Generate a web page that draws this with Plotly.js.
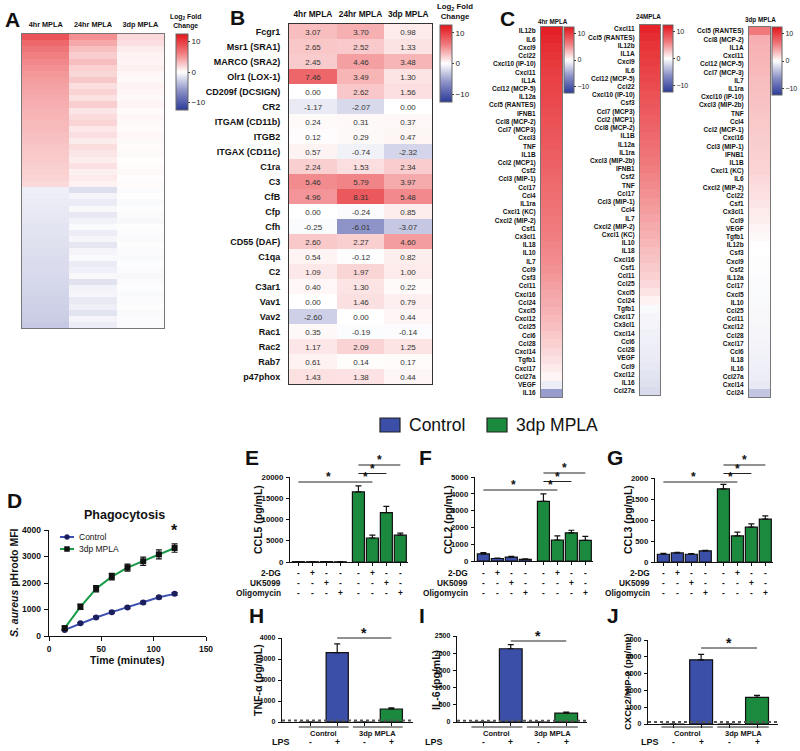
<!DOCTYPE html>
<html>
<head>
<meta charset="utf-8">
<script src="https://cdn.plot.ly/plotly-3.0.1.min.js"></script>
<style>html,body{margin:0;padding:0;background:#fff;}#chart{width:800px;height:751px;}</style>
</head>
<body>
<div id="chart"></div>
<script>
// ---------------- DATA ----------------
// Panel A: log2 fold change, rows ordered by 4hr value
const aCols = ['4hr MPLA','24hr MPLA','3dp MPLA'];
const aFold4hr = [8.6,7.4,6.6,6.0,5.6,5.2,4.9,4.6,4.4,4.2,4.0,3.8,3.6,3.5,3.3,3.2,3.0,2.9,2.7,2.6,2.5,2.3,2.2,2.0,1.8,
  -0.9,-1.0,-1.1,-1.2,-1.3,-1.4,-1.5,-1.5,-1.6,-1.7,-1.8,-1.9,-2.0,-2.0,-2.1,-2.2,-2.3,-2.4,-2.5,-2.6,-2.7,-2.8,-3.0];
const aFold24hr = [5.2,4.1,3.0,2.4,3.1,2.2,1.9,2.6,1.5,2.0,1.4,2.3,1.2,1.7,2.0,1.1,1.5,0.9,1.6,1.2,0.8,1.4,0.7,1.0,0.6,
  -1.8,-0.6,-1.1,-0.4,-1.3,-0.7,-0.3,-1.0,-0.5,-1.4,-0.6,-0.3,-1.1,-0.8,-0.4,-1.6,-0.7,-0.5,-1.2,-0.9,-1.5,-0.6,-1.0];
const aFold3dp = [1.8,1.5,0.9,0.6,0.5,0.7,0.4,0.3,0.6,0.4,0.3,0.5,0.2,0.4,0.3,0.2,0.4,0.3,0.2,0.3,0.1,0.2,0.3,0.1,0.2,
  -0.2,-0.1,-0.3,-0.1,-0.2,-0.4,-0.1,-0.2,-0.3,-0.1,-0.2,-0.3,-0.1,-0.2,-0.4,-0.2,-0.1,-0.3,-0.2,-0.1,-0.3,-0.2,-0.2];

// Panel B
const bCols = ['4hr MPLA','24hr MPLA','3dp MPLA'];
const bGenes = ['Fcgr1','Msr1 (SRA1)','MARCO (SRA2)','Olr1 (LOX-1)','CD209f (DCSIGN)','CR2','ITGAM (CD11b)','ITGB2',
  'ITGAX (CD11c)','C1ra','C3','CfB','Cfp','Cfh','CD55 (DAF)','C1qa','C2','C3ar1','Vav1','Vav2','Rac1','Rac2','Rab7','p47phox'];
const b4hr  = [3.07,2.65,2.45,7.46,0.00,-1.17,0.24,0.12,0.57,2.24,5.46,4.96,0.00,-0.25,2.60,0.54,1.09,0.40,0.00,-2.60,0.35,1.17,0.61,1.43];
const b24hr = [3.70,2.52,4.46,3.49,2.62,-2.07,0.31,0.29,-0.74,1.53,5.79,8.31,-0.24,-6.01,2.27,-0.12,1.97,1.30,1.46,0.00,-0.19,2.09,0.14,1.38];
const b3dp  = [0.98,1.33,3.48,1.30,1.56,0.00,0.37,0.47,-2.32,2.34,3.97,5.48,0.85,-3.07,4.60,0.82,1.00,0.22,0.79,0.44,-0.14,1.25,0.17,0.44];

// Panel C
const c4Genes = ['IL12b','IL6','Cxcl9','Ccl22','Cxcl10 (IP-10)','Cxcl11','IL1A','Ccl12 (MCP-5)','IL12a','Ccl5 (RANTES)','IFNB1',
  'Ccl8 (MCP-2)','Ccl7 (MCP3)','Cxcl3','TNF','IL1B','Ccl2 (MCP1)','Csf2','Ccl3 (MIP-1)','Ccl17','Ccl4','IL1ra','Cxcl1 (KC)',
  'Cxcl2 (MIP-2)','Csf1','Cx3cl1','IL18','IL10','IL7','Ccl9','Csf3','Ccl11','Cxcl16','Ccl24','Cxcl5','Cxcl12','Ccl25','Ccl6',
  'Ccl28','Cxcl14','Tgfb1','Cxcl17','Ccl27a','VEGF','IL16'];
const c4Vals = [11.8,11.3,10.9,10.6,10.3,10.0,9.8,9.6,9.4,9.2,9.0,8.8,8.6,8.4,8.2,8.0,7.8,7.6,7.4,7.2,7.0,6.8,6.6,6.4,6.2,
  6.0,5.8,5.6,5.4,5.1,4.8,4.5,4.2,3.9,3.6,3.3,3.0,2.6,2.2,1.8,1.4,1.0,0.5,-1.0,-5.5];
const c24Genes = ['Cxcl11','Ccl5 (RANTES)','IL12b','IL1A','Cxcl9','IL6','Ccl12 (MCP-5)','Ccl22','Cxcl10 (IP-10)','Csf3','Ccl7 (MCP3)',
  'Ccl2 (MCP1)','Ccl8 (MCP-2)','IL1B','IL12a','IL1ra','Cxcl3 (MIP-2b)','IFNB1','Csf2','TNF','Ccl17','Ccl3 (MIP-1)','Ccl4','IL7',
  'Cxcl2 (MIP-2)','Cxcl1 (KC)','IL10','IL18','Cxcl16','Csf1','Ccl11','Ccl25','Cxcl5','Ccl24','Tgfb1','Cxcl17','Cx3cl1','Cxcl14',
  'Ccl6','Ccl28','VEGF','Ccl9','Cxcl12','IL16','Ccl27a'];
const c24Vals = [11.5,11.0,10.6,10.3,10.0,9.7,9.4,9.1,8.8,8.5,8.2,7.9,7.6,7.3,7.0,6.7,6.4,6.1,5.8,5.5,5.2,4.9,4.6,4.3,4.0,
  3.7,3.4,3.1,2.8,2.5,2.2,1.8,1.3,0.6,-0.3,-0.5,-0.6,-0.8,-0.9,-1.0,-1.1,-1.3,-1.5,-1.7,-2.0];
const c3Genes = ['Ccl5 (RANTES)','Ccl8 (MCP-2)','IL1A','Cxcl11','Ccl12 (MCP-5)','Ccl7 (MCP-3)','IL7','IL1ra','Cxcl10 (IP-10)',
  'Cxcl3 (MIP-2b)','TNF','Ccl4','Ccl2 (MCP-1)','Cxcl16','Ccl3 (MIP-1)','IFNB1','IL1B','Cxcl1 (KC)','IL6','Cxcl2 (MIP-2)','Ccl22',
  'Csf1','Cx3cl1','Ccl9','VEGF','Tgfb1','IL12b','Csf3','Cxcl9','Csf2','IL12a','Ccl17','Cxcl5','IL10','Ccl25','Ccl11','Cxcl12',
  'Ccl28','Cxcl17','Ccl6','IL18','IL16','Ccl27a','Cxcl14','Ccl24'];
const c3Vals = [6.3,3.8,3.6,3.5,3.4,3.3,3.1,3.0,2.9,2.8,2.7,2.6,2.5,2.4,2.3,2.2,2.1,2.0,1.8,1.6,1.4,1.2,1.0,0.8,0.5,
  0.3,0.1,0.0,-0.1,-0.1,-0.2,-0.2,-0.3,-0.3,-0.4,-0.4,-0.5,-0.5,-0.6,-0.7,-0.8,-0.9,-1.0,-1.2,-3.2];

// Panel D: phagocytosis
const dTime = [15,30,45,60,75,90,105,120];
const dControl = [230,480,700,900,1080,1260,1460,1590];
const dControlErr = [30,30,40,40,40,50,50,50];
const dMpla = [300,1100,1780,2240,2580,2820,3080,3320];
const dMplaErr = [50,100,120,120,130,160,170,160];

// Panels E-G: metabolic inhibitors
const efgGroup = ['Control','Control','Control','Control','3dp MPLA','3dp MPLA','3dp MPLA','3dp MPLA'];
const sign2DG    = ['-','+','-','-','-','+','-','-'];
const signUK5099 = ['-','-','+','-','-','-','+','-'];
const signOligo  = ['-','-','-','+','-','-','-','+'];
const eCCL5 = [80,60,90,50,16500,5650,11600,6300];
const eCCL5Err = [20,20,20,20,1400,650,1500,500];
const fCCL2 = [420,150,230,100,3550,1250,1680,1230];
const fCCL2Err = [80,30,50,30,450,250,150,230];
const gCCL3 = [185,215,185,265,1740,620,830,1020];
const gCCL3Err = [20,15,15,15,110,90,80,80];
const efgSig = [[0,4,0],[4,5,0],[4,6,1],[4,7,2]];   // [bar a, bar b, level]

// Panels H-J: LPS restimulation
const hijGroup = ['Control','Control','3dp MPLA','3dp MPLA'];
const signLPS = ['-','+','-','+'];
const hTNF = [0,3300,0,620];   const hTNFErr = [0,420,0,50];
const iIL6 = [0,2130,0,260];   const iIL6Err = [0,120,0,25];
const jCXCL2 = [0,3820,0,1580]; const jCXCL2Err = [0,330,0,120];
const hijSig = [[1,3]];

// ---------------- STYLE / LAYOUT HELPERS ----------------
const FONT = 'Liberation Sans, Arial, Helvetica, sans-serif';
const BLUE = '#3b4fa8', GREEN = '#1c8a3e';
const CS = [[0,'#2b3a97'],[0.25,'#8a8fc6'],[0.5,'#ffffff'],[0.75,'#f07a7d'],[1,'#e3151b']];
const W = 800, H = 751;
const px = x => x / W, py = y => 1 - y / H;
const dom = (a, b) => [a / W, b / W];
const domY = (t, b) => [1 - b / H, 1 - t / H];
const groupColor = g => g === 'Control' ? BLUE : GREEN;

function cb(x, top, len, thick, fs) {
  return {x: px(x), xanchor: 'left', y: py(top), yanchor: 'top', len: len, lenmode: 'pixels',
    thickness: thick, thicknessmode: 'pixels', xpad: 0, ypad: 0, tickvals: [10, 0, -10],
    ticks: 'outside', ticklen: 2, tickcolor: '#333', outlinewidth: 1, outlinecolor: '#666',
    tickfont: {family: FONT, size: fs || 8, color: '#222'}};
}
function ann(x, y, text, size, o) {
  return Object.assign({xref: 'paper', yref: 'paper', x: px(x), y: py(y), text: text, showarrow: false,
    font: {family: FONT, size: size, color: '#111', weight: 'bold'}, xanchor: 'center', yanchor: 'middle'}, o || {});
}

const traces = [];
const annotations = [];
const shapes = [];

// ---- A ----
traces.push({type: 'heatmap', x: aCols, y: aFold4hr.map((_, i) => i),
  z: aFold4hr.map((v, i) => [v, aFold24hr[i], aFold3dp[i]]), colorscale: CS, zmin: -12.5, zmax: 12.5,
  xaxis: 'x', yaxis: 'y', colorbar: cb(176, 34, 76, 12, 8), hoverinfo: 'skip'});
// ---- B ----
traces.push({type: 'heatmap', x: bCols, y: bGenes, z: bGenes.map((_, i) => [b4hr[i], b24hr[i], b3dp[i]]),
  colorscale: CS, zmin: -12.5, zmax: 12.5, texttemplate: '%{z:.2f}',
  textfont: {family: FONT, size: 8, color: '#333'}, xaxis: 'x2', yaxis: 'y2',
  colorbar: cb(440, 25, 77, 12, 8), hoverinfo: 'skip'});
// ---- C ----
[[c4Genes, c4Vals, 'x3', 'y3', cb(564, 27, 66, 10, 7)],
 [c24Genes, c24Vals, 'x4', 'y4', cb(663, 25, 67, 10, 7)],
 [c3Genes, c3Vals, 'x5', 'y5', cb(772, 27, 68, 10, 7)]].forEach(([g, v, xa, ya, c]) => {
  traces.push({type: 'heatmap', x: ['v'], y: g, z: v.map(val => [val]), colorscale: CS, zmin: -12.5, zmax: 12.5,
    xaxis: xa, yaxis: ya, colorbar: c, hoverinfo: 'skip'});
});
// ---- D ----
traces.push({type: 'scatter', mode: 'lines+markers', name: 'Control', x: dTime, y: dControl,
  error_y: {type: 'data', array: dControlErr, color: '#111', thickness: 1.2, width: 3},
  line: {color: '#3c50b0', width: 2}, marker: {symbol: 'circle', size: 6, color: '#1b1f5e'},
  xaxis: 'x6', yaxis: 'y6', showlegend: false, hoverinfo: 'skip'});
traces.push({type: 'scatter', mode: 'lines+markers', name: '3dp MPLA', x: dTime, y: dMpla,
  error_y: {type: 'data', array: dMplaErr, color: '#111', thickness: 1.2, width: 3},
  line: {color: '#1a9a48', width: 2}, marker: {symbol: 'square', size: 6, color: '#111'},
  xaxis: 'x6', yaxis: 'y6', showlegend: false, hoverinfo: 'skip'});

// ---- E/F/G ----
const efgPos = i => i + (i >= 4 ? 0.3 : 0);
function efgPanel(vals, errs, xa, ya) {
  ['Control', '3dp MPLA'].forEach(g => {
    const idx = efgGroup.map((gg, i) => gg === g ? i : -1).filter(i => i >= 0);
    traces.push({type: 'bar', x: idx.map(efgPos), y: idx.map(i => vals[i]), width: 0.86,
      marker: {color: groupColor(g), line: {color: '#111', width: 1.2}},
      error_y: {type: 'data', array: idx.map(i => errs[i]), arrayminus: idx.map(() => 0), symmetric: false,
        color: '#111', thickness: 1.2, width: 3},
      xaxis: xa, yaxis: ya, showlegend: false, hoverinfo: 'skip'});
  });
}
efgPanel(eCCL5, eCCL5Err, 'x7', 'y7');
efgPanel(fCCL2, fCCL2Err, 'x8', 'y8');
efgPanel(gCCL3, gCCL3Err, 'x9', 'y9');

// ---- H/I/J ----
function hijPanel(vals, errs, xa, ya) {
  traces.push({type: 'bar', x: vals.map((_, i) => i), y: vals, width: 0.82,
    marker: {color: hijGroup.map(groupColor), line: {color: '#111', width: 1.2}},
    error_y: {type: 'data', array: errs, arrayminus: errs.map(() => 0), symmetric: false,
      color: '#111', thickness: 1.2, width: 3},
    xaxis: xa, yaxis: ya, showlegend: false, hoverinfo: 'skip'});
}
hijPanel(hTNF, hTNFErr, 'x10', 'y10');
hijPanel(iIL6, iIL6Err, 'x11', 'y11');
hijPanel(jCXCL2, jCXCL2Err, 'x12', 'y12');

// ---------------- AXES ----------------
const tickBold = (s) => ({family: FONT, size: s, color: '#111', weight: 'bold'});
function heatX(domain, anchor, showLabels, size) {
  return {domain: domain, anchor: anchor, side: 'top', showticklabels: showLabels, ticks: '', tickangle: 0,
    tickfont: tickBold(size || 9), showline: true, mirror: true, linecolor: '#777', linewidth: 1,
    showgrid: false, zeroline: false, ticklabelstandoff: 3};
}
function heatY(domain, anchor, labels, size, standoff) {
  const o = {domain: domain, anchor: anchor, autorange: 'reversed', showticklabels: !!labels, ticks: '',
    tickfont: tickBold(size || 9), showline: true, mirror: true, linecolor: '#777', linewidth: 1,
    showgrid: false, zeroline: false, ticklabelstandoff: standoff || 2};
  if (labels) { o.tickmode = 'array'; o.tickvals = labels; o.ticktext = labels; }
  return o;
}
function barX(domain, anchor, range, tickvals) {
  return {domain: domain, anchor: anchor, range: range, showline: true, linecolor: '#111', linewidth: 1.2,
    ticks: 'outside', ticklen: 3, tickwidth: 1, tickcolor: '#111', tickmode: 'array', tickvals: tickvals,
    showticklabels: false, showgrid: false, zeroline: false};
}
function barY(domain, anchor, range, dtick, size) {
  return {domain: domain, anchor: anchor, range: range, showline: true, linecolor: '#111', linewidth: 1.2,
    ticks: 'outside', ticklen: 3, tickwidth: 1, tickcolor: '#111', dtick: dtick, tick0: 0, tickformat: 'd',
    tickfont: tickBold(size || 8), showgrid: false, zeroline: false, ticklabelstandoff: 1};
}
const efgTicks = efgGroup.map((_, i) => efgPos(i));
const hijTicks = hijGroup.map((_, i) => i);

const layout = {
  width: W, height: H, margin: {l: 0, r: 0, t: 0, b: 0}, paper_bgcolor: '#fff', plot_bgcolor: 'rgba(0,0,0,0)',
  font: {family: FONT, color: '#111'}, bargap: 0, showlegend: false,
  xaxis: heatX(dom(22, 164), 'y', true, 7.3), yaxis: heatY(domY(34, 328), 'x', null),
  xaxis2: Object.assign(heatX(dom(289, 432), 'y2', true, 8.3), {linecolor: '#333'}),
  yaxis2: Object.assign(heatY(domY(24, 384), 'x2', bGenes, 9, 6), {linecolor: '#333'}),
  xaxis3: heatX(dom(541, 562), 'y3', false), yaxis3: heatY(domY(27, 397), 'x3', c4Genes, 6.5, 3),
  xaxis4: heatX(dom(640, 660), 'y4', false), yaxis4: heatY(domY(25, 395), 'x4', c24Genes, 6.5, 3),
  xaxis5: heatX(dom(749, 770), 'y5', false), yaxis5: heatY(domY(27, 397), 'x5', c3Genes, 6.5, 3),
  xaxis6: {domain: dom(49, 206), anchor: 'y6', range: [0, 150], tickvals: [0, 50, 100, 150], showline: true,
    linecolor: '#111', linewidth: 1.3, ticks: 'outside', ticklen: 4, tickcolor: '#111', tickfont: tickBold(8.5),
    showgrid: false, zeroline: false},
  yaxis6: Object.assign(barY(domY(530, 636), 'x6', [0, 4000], 1000, 8.5), {linewidth: 1.3, ticklen: 4}),
  xaxis7: barX(dom(290, 408), 'y7', [-0.6, 7.85], efgTicks), yaxis7: barY(domY(477, 562), 'x7', [0, 20000], 5000, 7.8),
  xaxis8: barX(dom(475, 593), 'y8', [-0.6, 7.85], efgTicks), yaxis8: barY(domY(477, 561), 'x8', [0, 5000], 1000, 7.8),
  xaxis9: barX(dom(655, 773), 'y9', [-0.6, 7.85], efgTicks), yaxis9: barY(domY(478, 562), 'x9', [0, 2000], 500, 7.8),
  xaxis10: barX(dom(282, 413), 'y10', [-1.04, 3.8], hijTicks), yaxis10: barY(domY(638, 722), 'x10', [0, 4000], 1000, 7),
  xaxis11: barX(dom(457, 587), 'y11', [-0.94, 3.75], hijTicks), yaxis11: barY(domY(636, 722), 'x11', [0, 2500], 500, 7),
  xaxis12: barX(dom(648, 778), 'y12', [-0.9, 3.75], hijTicks), yaxis12: barY(domY(640, 724), 'x12', [0, 5000], 1000, 7)
};

// ---------------- TEXT / ANNOTATIONS ----------------
[['A', 12, 20], ['B', 237, 18], ['C', 507, 19], ['D', 14, 500], ['E', 252, 458], ['F', 425, 458], ['G', 615, 458],
 ['H', 256, 615], ['I', 422, 615], ['J', 613, 615]].forEach(([t, x, y]) => annotations.push(ann(x, y, t, 21)));

annotations.push(ann(185, 21, 'Log<sub>2</sub> Fold<br>Change', 6.8));
annotations.push(ann(455, 12, 'Log<sub>2</sub> Fold<br>Change', 7.8));
annotations.push(ann(553, 21, '4hr MPLA', 6.3));
annotations.push(ann(648, 16, '24MPLA', 6.3));
annotations.push(ann(760, 20, '3dp MPLA', 6.3));

// main legend (Control / 3dp MPLA)
shapes.push({type: 'rect', xref: 'paper', yref: 'paper', x0: px(380), x1: px(400), y0: py(432), y1: py(418),
  fillcolor: BLUE, line: {color: '#222', width: 1.2}});
shapes.push({type: 'rect', xref: 'paper', yref: 'paper', x0: px(487), x1: px(507), y0: py(432), y1: py(418),
  fillcolor: GREEN, line: {color: '#222', width: 1.2}});
annotations.push(ann(407, 425, 'Control', 17.5, {xanchor: 'left', font: {family: FONT, size: 17.5, color: '#111'}}));
annotations.push(ann(514, 425, '3dp MPLA', 17.5, {xanchor: 'left', font: {family: FONT, size: 17.5, color: '#111'}}));

// D legend (manual key) and texts
[['Control', '#3c50b0', 'circle', '#1b1f5e', 537], ['3dp MPLA', '#1a9a48', 'rect', '#111', 549]].forEach(([name, lc, sym, mc, y]) => {
  shapes.push({type: 'line', xref: 'paper', yref: 'paper', x0: px(60), x1: px(74), y0: py(y), y1: py(y), line: {color: lc, width: 2}});
  shapes.push({type: sym, xref: 'paper', yref: 'paper', x0: px(64.5), x1: px(69.5), y0: py(y + 2.5), y1: py(y - 2.5),
    fillcolor: mc, line: {color: mc, width: 0.5}});
  annotations.push(ann(77, y, name, 8.5, {xanchor: 'left', font: {family: FONT, size: 8.5, color: '#111'}}));
});
annotations.push(ann(124, 515, 'Phagocytosis', 12.5));
annotations.push(ann(127, 660, 'Time (minutes)', 10.5));
annotations.push(ann(14, 583, '<i>S. aureus</i> pHrodo MFI', 10.5, {textangle: -90}));
annotations.push({xref: 'x6', yref: 'y6', x: dTime[dTime.length - 1], y: dMpla[dMpla.length - 1] + dMplaErr[dMplaErr.length - 1],
  yshift: 13, text: '*', showarrow: false, font: {family: FONT, size: 16, color: '#111', weight: 'bold'}});

// E/F/G: y titles, condition rows, significance
const efgPanels = [
  {xa: 'x7', title: 'CCL5 (pg/mL)', tx: 258, ty: 520, labR: 283, sig0: 482},
  {xa: 'x8', title: 'CCL2 (pg/mL)', tx: 448, ty: 520, labR: 470, sig0: 490},
  {xa: 'x9', title: 'CCL3 (pg/mL)', tx: 628, ty: 520, labR: 652, sig0: 482}
];
const condRows = [['2-DG', sign2DG, 573], ['UK5099', signUK5099, 583], ['Oligomycin', signOligo, 593]];
efgPanels.forEach(p => {
  annotations.push(ann(p.tx, p.ty, p.title, 10.5, {textangle: -90}));
  condRows.forEach(([name, signs, y]) => {
    annotations.push(ann(p.labR, y, name, 8.3, {xanchor: 'right'}));
    signs.forEach((s, i) => annotations.push({xref: p.xa, yref: 'paper', x: efgPos(i), y: py(y), text: s,
      showarrow: false, font: {family: FONT, size: 8.3, color: '#111', weight: 'bold'}, yanchor: 'middle'}));
  });
  efgSig.forEach(([a, b, lvl]) => {
    const yl = p.sig0 - lvl * 8.5;
    shapes.push({type: 'line', xref: p.xa, yref: 'paper', x0: efgPos(a), x1: efgPos(b), y0: py(yl), y1: py(yl),
      line: {color: '#222', width: 1}});
    annotations.push({xref: p.xa, yref: 'paper', x: (efgPos(a) + efgPos(b)) / 2, y: py(yl + 4), text: '*',
      showarrow: false, yanchor: 'bottom', font: {family: FONT, size: 12, color: '#111', weight: 'bold'}});
  });
});

// H/I/J
const hijPanels = [
  {xa: 'x10', ya: 'y10', title: 'TNF-\u03b1 (pg/mL)', tx: 258, ty: 680, lps: 292, sig: 638, x0: 282, x1: 413, lod: 70},
  {xa: 'x11', ya: 'y11', title: 'IL-6 (pg/mL)', tx: 436, ty: 680, lps: 445, sig: 641, x0: 457, x1: 587, lod: 35},
  {xa: 'x12', ya: 'y12', title: 'CXCL2/MIP-2 (pg/mL)', tx: 627, ty: 682, lps: 661, sig: 648, x0: 648, x1: 778, lod: 120}
];
hijPanels.forEach(p => {
  annotations.push(ann(p.tx, p.ty, p.title, p.title.length > 15 ? 9.5 : 10.5, {textangle: -90}));
  shapes.push({type: 'line', xref: 'paper', yref: p.ya, x0: px(p.x0), x1: px(p.x1), y0: p.lod, y1: p.lod,
    line: {color: '#555', width: 2, dash: 'dot'}});
  [['Control', -0.42, 1.42], ['3dp MPLA', 1.58, 3.42]].forEach(([g, a, b]) => {
    shapes.push({type: 'line', xref: p.xa, yref: 'paper', x0: a, x1: b, y0: py(727), y1: py(727),
      line: {color: '#222', width: 1}});
    annotations.push({xref: p.xa, yref: 'paper', x: (a + b) / 2, y: py(733), text: g, showarrow: false,
      font: {family: FONT, size: 7.5, color: '#111', weight: 'bold'}, yanchor: 'middle'});
  });
  annotations.push(ann(p.lps, 742, 'LPS', 9, {xanchor: 'right'}));
  signLPS.forEach((s, i) => annotations.push({xref: p.xa, yref: 'paper', x: i, y: py(742), text: s, showarrow: false,
    font: {family: FONT, size: 8.5, color: '#111', weight: 'bold'}, yanchor: 'middle'}));
  hijSig.forEach(([a, b]) => {
    shapes.push({type: 'line', xref: p.xa, yref: 'paper', x0: a, x1: b, y0: py(p.sig), y1: py(p.sig),
      line: {color: '#222', width: 1}});
    annotations.push({xref: p.xa, yref: 'paper', x: (a + b) / 2, y: py(p.sig + 5), text: '*', showarrow: false,
      yanchor: 'bottom', font: {family: FONT, size: 14, color: '#111', weight: 'bold'}});
  });
});

layout.annotations = annotations;
layout.shapes = shapes;

Plotly.newPlot('chart', traces, layout, {staticPlot: true, displayModeBar: false});
</script>
</body>
</html>
